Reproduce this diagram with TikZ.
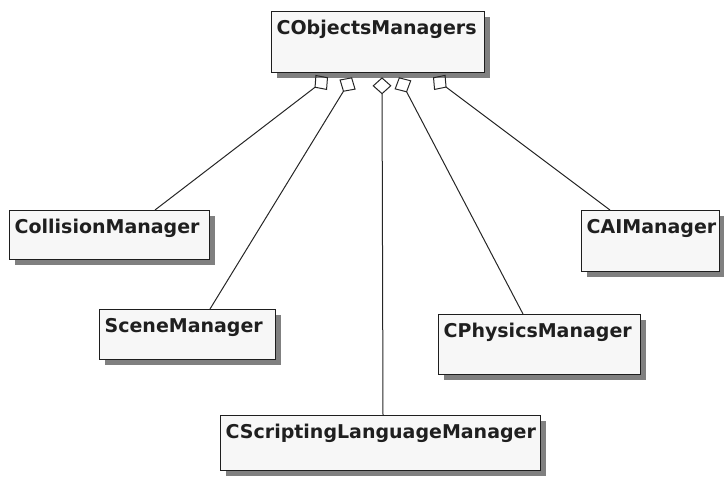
\documentclass[tikz,border=0pt]{standalone}
\usepackage{fontspec}
\setmainfont{DejaVu Sans}
\usetikzlibrary{arrows.meta,shadows,calc}
\definecolor{boxfill}{HTML}{F7F7F7}
\definecolor{boxline}{HTML}{1E1E1E}
\definecolor{shadecol}{HTML}{808080}
\begin{document}
\begin{tikzpicture}[x=1pt,y=-1pt,
  cls/.style={draw=boxline, line width=1.3pt, fill=boxfill,
    general shadow={fill=shadecol, shadow xshift=5pt, shadow yshift=-5pt},
    anchor=north west, inner xsep=5pt, inner ysep=0pt, align=left,
    text height=23pt, text=black!88,
    font=\bfseries\fontsize{19}{22}\selectfont},
  conn/.style={{Diamond[open,length=17pt,width=19pt]}-, line width=1pt, draw=black!85}]
\useasboundingbox (0,0) rectangle (724,477);
\node[cls, text width=203pt, text depth=38pt] (om) at (271,11) {CObjectsManagers};
\node[cls, text width=190pt, text depth=26pt] (coll) at (9,210) {CollisionManager};
\node[cls, text width=166pt, text depth=27pt] (scene) at (99,309) {SceneManager};
\node[cls, text width=192pt, text depth=37pt] (phys) at (438,314) {CPhysicsManager};
\node[cls, text width=128pt, text depth=38pt] (cai) at (581,210) {CAIManager};
\node[cls, text width=310pt, text depth=32pt] (script) at (220,415) {CScriptingLanguageManager};
\coordinate (d1) at ($(om.south west)+(57,4)$);
\coordinate (d2) at ($(om.south west)+(81,4)$);
\coordinate (d3) at ($(om.south west)+(111,4)$);
\coordinate (d4) at ($(om.south west)+(128,4)$);
\coordinate (d5) at ($(om.south west)+(162,4)$);
\draw[conn] (d1) -- ($(coll.north west)+(146,0)$);
\draw[conn] (d2) -- ($(scene.north west)+(111,0)$);
\draw[conn] (d3) -- ($(script.north west)+(163,0)$);
\draw[conn] (d4) -- ($(phys.north west)+(85,0)$);
\draw[conn] (d5) -- ($(cai.north west)+(29,0)$);
\end{tikzpicture}
\end{document}
